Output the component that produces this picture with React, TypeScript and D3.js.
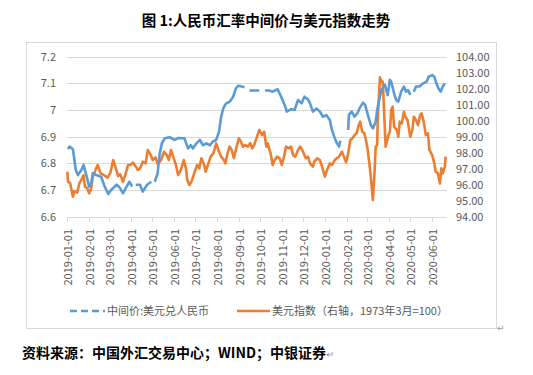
import React from "react";
import * as d3 from "d3";

const cnyDates: string[] = [
  "2019-01-02","2019-01-04","2019-01-09","2019-01-13","2019-01-16","2019-01-21","2019-01-24","2019-01-28",
  "2019-02-01","2019-02-04","2019-02-06","2019-02-11","2019-02-18","2019-02-23","2019-02-28","2019-03-04",
  "2019-03-12","2019-03-16","2019-03-21","2019-03-26","2019-03-30","2019-04-03","2019-04-05","2019-04-08",
  "2019-04-14","2019-04-18","2019-04-24","2019-04-30","2019-05-02","2019-05-05","2019-05-09","2019-05-12",
  "2019-05-15","2019-05-19","2019-05-26","2019-06-02","2019-06-07","2019-06-16","2019-06-21","2019-06-25",
  "2019-06-28","2019-07-03","2019-07-08","2019-07-12","2019-07-17","2019-07-22","2019-07-26","2019-07-31",
  "2019-08-04","2019-08-07","2019-08-10","2019-08-14","2019-08-19","2019-08-24","2019-08-28","2019-08-31",
  "2019-09-05","2019-09-09","2019-09-12","2019-09-16","2019-09-26","2019-09-30","2019-10-04","2019-10-08",
  "2019-10-14","2019-10-19","2019-10-26","2019-10-31","2019-11-05","2019-11-08","2019-11-14","2019-11-19",
  "2019-11-24","2019-11-29","2019-12-03","2019-12-08","2019-12-11","2019-12-15","2019-12-20","2019-12-25",
  "2019-12-29","2020-01-03","2020-01-08","2020-01-11","2020-01-15","2020-01-17","2020-01-21","2020-01-23",
  "2020-01-28","2020-02-03","2020-02-04","2020-02-08","2020-02-12","2020-02-16","2020-02-19","2020-02-24",
  "2020-02-27","2020-03-02","2020-03-06","2020-03-09","2020-03-13","2020-03-15","2020-03-21","2020-03-26",
  "2020-03-30","2020-04-02","2020-04-04","2020-04-08","2020-04-11","2020-04-14","2020-04-18","2020-04-22",
  "2020-04-25","2020-04-28","2020-05-01","2020-05-03","2020-05-06","2020-05-09","2020-05-14","2020-05-19",
  "2020-05-24","2020-05-27","2020-06-01","2020-06-04","2020-06-07","2020-06-10","2020-06-13","2020-06-16",
  "2020-06-19"
];
const cnyValues: (number | null)[] = [
  6.853,6.863,6.853,6.775,6.756,6.775,6.794,6.756,
  6.713,6.725,6.763,6.756,6.75,6.713,6.685,6.70,
  6.72,6.71,6.688,6.713,6.731,6.713,null,6.72,
  6.72,6.694,6.72,6.731,null,6.731,6.763,6.838,
  6.875,6.894,6.898,6.888,6.895,6.894,6.856,6.868,
  6.856,6.875,6.888,6.868,6.875,6.868,6.881,6.888,
  6.919,6.975,7.006,7.025,7.031,7.05,7.081,7.091,
  7.088,7.086,null,7.073,7.073,7.073,null,7.073,
  7.073,7.069,7.078,7.05,7.019,6.994,7.003,7.0,
  7.0375,7.025,7.05,7.04,7.025,6.994,7.006,6.994,
  6.975,6.981,6.963,6.925,6.894,6.881,6.863,6.885,
  null,6.925,6.981,6.994,6.975,6.988,7.006,7.028,
  7.019,6.981,6.944,6.931,6.956,7.0,7.075,7.094,
  7.056,7.113,7.106,7.063,7.0375,7.031,7.069,7.088,
  7.069,7.075,7.056,null,7.069,7.088,7.088,7.1,
  7.106,7.125,7.131,7.125,7.1,7.081,7.069,7.088,
  7.1
];

const dxyDates: string[] = [
  "2019-01-01","2019-01-02","2019-01-05","2019-01-07","2019-01-09","2019-01-11","2019-01-15","2019-01-18",
  "2019-01-21","2019-01-24","2019-01-26","2019-01-29","2019-02-01","2019-02-04","2019-02-06","2019-02-10",
  "2019-02-13","2019-02-17","2019-02-20","2019-02-24","2019-02-27","2019-03-03","2019-03-07","2019-03-10",
  "2019-03-14","2019-03-17","2019-03-21","2019-03-25","2019-03-28","2019-03-31","2019-04-04","2019-04-08",
  "2019-04-11","2019-04-14","2019-04-18","2019-04-22","2019-04-25","2019-04-28","2019-05-02","2019-05-06",
  "2019-05-09","2019-05-14","2019-05-18","2019-05-22","2019-05-25","2019-05-28","2019-05-31","2019-06-04",
  "2019-06-07","2019-06-11","2019-06-15","2019-06-18","2019-06-20","2019-06-23","2019-06-26","2019-06-30",
  "2019-07-04","2019-07-07","2019-07-10","2019-07-14","2019-07-16","2019-07-20","2019-07-23","2019-07-27",
  "2019-07-31","2019-08-03","2019-08-07","2019-08-11","2019-08-13","2019-08-16","2019-08-19","2019-08-22",
  "2019-08-25","2019-08-29","2019-09-01","2019-09-04","2019-09-07","2019-09-10","2019-09-14","2019-09-17",
  "2019-09-20","2019-09-23","2019-09-26","2019-09-30","2019-10-04","2019-10-07","2019-10-10","2019-10-12",
  "2019-10-16","2019-10-19","2019-10-22","2019-10-25","2019-10-29","2019-11-01","2019-11-04","2019-11-07",
  "2019-11-11","2019-11-14","2019-11-17","2019-11-20","2019-11-24","2019-11-27","2019-12-01","2019-12-05",
  "2019-12-08","2019-12-11","2019-12-15","2019-12-17","2019-12-21","2019-12-25","2019-12-28","2020-01-01",
  "2020-01-04","2020-01-08","2020-01-11","2020-01-15","2020-01-18","2020-01-21","2020-01-25","2020-01-28",
  "2020-01-31","2020-02-03","2020-02-06","2020-02-09","2020-02-12","2020-02-15","2020-02-18","2020-02-20",
  "2020-02-23","2020-02-26","2020-03-01","2020-03-04","2020-03-06","2020-03-09","2020-03-11","2020-03-13",
  "2020-03-15","2020-03-16","2020-03-19","2020-03-21","2020-03-23","2020-03-24","2020-03-27","2020-03-31",
  "2020-04-02","2020-04-04","2020-04-06","2020-04-08","2020-04-12","2020-04-14","2020-04-16","2020-04-19",
  "2020-04-22","2020-04-24","2020-04-27","2020-05-01","2020-05-04","2020-05-06","2020-05-09","2020-05-12",
  "2020-05-15","2020-05-17","2020-05-20","2020-05-23","2020-05-26","2020-05-28","2020-06-01","2020-06-04",
  "2020-06-06","2020-06-09","2020-06-12","2020-06-14","2020-06-16","2020-06-19","2020-06-20"
];
const dxyValues: number[] = [
  96.81,96.19,96.1,95.67,95.25,95.6,95.5,96.08,
  96.29,96.6,95.88,95.79,95.46,95.79,96.5,96.92,
  97.23,96.73,96.65,96.54,96.44,96.73,97.54,97.13,
  96.54,96.65,96.19,96.73,97.23,97.23,97.38,97.13,
  96.92,97.02,97.44,97.33,98.17,97.96,97.54,97.7,
  97.3,97.54,98.06,97.85,97.54,98.17,97.75,97.23,
  96.6,96.92,97.54,97.02,96.29,95.98,96.19,96.73,
  97.23,97.02,97.65,97.23,96.81,97.33,97.75,97.96,
  98.58,98.17,97.75,97.54,97.33,97.96,98.38,98.17,
  97.65,98.38,98.9,98.69,98.38,98.48,98.38,98.6,
  98.27,98.5,98.9,99.42,99.1,99.31,98.38,98.58,
  97.96,97.23,97.54,97.75,97.65,97.23,97.75,98.38,
  98.27,98.38,97.85,97.75,98.17,98.38,98.06,97.65,
  97.75,97.33,97.13,97.44,97.65,97.54,97.13,96.5,
  96.92,97.33,97.23,97.54,97.65,97.75,98.06,97.75,
  97.4,97.96,98.79,98.9,99.1,99.21,99.73,99.94,
  99.31,99.21,98.38,97.33,96.5,95.04,96.5,98.38,
  98.48,100.25,102.71,102.44,102.44,101.5,98.38,99.1,
  99.31,100.67,100.88,99.63,99.42,99.0,99.94,99.83,
  100.56,100.25,100.04,99.0,99.42,100.25,100.04,99.73,
  100.35,100.46,99.94,99.1,99.21,98.17,97.85,97.33,
  96.81,96.71,96.08,97.02,96.71,97.13,97.75
];

const leftTicks: number[] = [6.6, 6.7, 6.8, 6.9, 7, 7.1, 7.2];
const rightTicks: number[] = [94, 95, 96, 97, 98, 99, 100, 101, 102, 103, 104];
const monthTicks: string[] = [
  "2019-01-01","2019-02-01","2019-03-01","2019-04-01","2019-05-01","2019-06-01","2019-07-01","2019-08-01",
  "2019-09-01","2019-10-01","2019-11-01","2019-12-01","2020-01-01","2020-02-01","2020-03-01","2020-04-01",
  "2020-05-01","2020-06-01"
];

const titleText = "图 1:人民币汇率中间价与美元指数走势";
const legendBlue = "中间价:美元兑人民币";
const legendOrange = "美元指数（右轴，1973年3月=100）";
const sourceText = "资料来源：中国外汇交易中心；WIND；中银证券";

const BLUE = "#5B9BD5";
const ORANGE = "#ED7D31";
const GRID = "#D9D9D9";
const TXT = "#595959";

export default function App() {
  const parse = d3.timeParse("%Y-%m-%d");
  const x = d3
    .scaleTime()
    .domain([parse("2019-01-01") as Date, parse("2020-06-22") as Date])
    .range([67.3, 447]);
  const yL = d3.scaleLinear().domain([6.6, 7.2]).range([216.7, 56.7]);
  const yR = d3.scaleLinear().domain([94, 104]).range([216.7, 56.7]);

  const cny = cnyDates.map((d, i) => ({ d: parse(d) as Date, v: cnyValues[i] }));
  const dxy = dxyDates.map((d, i) => ({ d: parse(d) as Date, v: dxyValues[i] }));

  const lineL = d3
    .line<{ d: Date; v: number | null }>()
    .defined((p) => p.v !== null)
    .x((p) => x(p.d))
    .y((p) => yL(p.v as number));
  const lineR = d3
    .line<{ d: Date; v: number }>()
    .x((p) => x(p.d))
    .y((p) => yR(p.v));

  const font = "'Microsoft YaHei', 'Noto Sans CJK SC', 'DejaVu Sans', sans-serif";
  const serifFont = "'Noto Sans CJK SC', serif";

  return (
    <svg
      width={533}
      height={375}
      style={{ position: "absolute", left: 0, top: 0, background: "#fff" }}
      fontFamily={font}
    >
      <rect x={0} y={0} width={533} height={375} fill="#fff" />
      <text x={266} y={26} textAnchor="middle" fontFamily={serifFont} fontWeight="bold" fontSize={14.5} fill="#000">
        {titleText}
      </text>
      <rect x={26.5} y={42.5} width={470} height={286} fill="none" stroke={GRID} strokeWidth={1} />

      {leftTicks.map((t) => (
        <g key={"g" + t}>
          <line x1={67.3} x2={447} y1={Math.round(yL(t)) + 0.5} y2={Math.round(yL(t)) + 0.5} stroke={GRID} strokeWidth={1} />
          <text x={56} y={yL(t) + 4} textAnchor="end" fontSize={11} fill={TXT}>
            {String(t)}
          </text>
        </g>
      ))}
      {rightTicks.map((t) => (
        <text key={"r" + t} x={456} y={yR(t) + 4} textAnchor="start" fontSize={11} fill={TXT}>
          {t.toFixed(2)}
        </text>
      ))}
      {monthTicks.map((m) => {
        const xx = Math.round(x(parse(m) as Date)) + 0.5;
        return (
          <g key={m}>
            <line x1={xx} x2={xx} y1={217} y2={222} stroke={GRID} strokeWidth={1} />
            <text
              transform={`translate(${xx + 4},${229}) rotate(-90)`}
              textAnchor="end"
              fontSize={11}
              fill={TXT}
            >
              {m}
            </text>
          </g>
        );
      })}

      <path d={lineR(dxy) || ""} fill="none" stroke={ORANGE} strokeWidth={2.6} strokeLinejoin="round" />
      <path d={lineL(cny) || ""} fill="none" stroke={BLUE} strokeWidth={2.6} strokeLinejoin="round" />

      <line x1={70} x2={105} y1={311} y2={311} stroke={BLUE} strokeWidth={2.6} strokeDasharray="7,4" />
      <text x={107} y={315} fontSize={11} fill={TXT}>{legendBlue}</text>
      <line x1={237} x2={270} y1={311} y2={311} stroke={ORANGE} strokeWidth={2.6} />
      <text x={272} y={315} fontSize={11} fill={TXT}>{legendOrange}</text>
      <text x={497} y={331} fontSize={9} fill="#999">↵</text>

      <text x={22} y={358} fontFamily={serifFont} fontWeight="bold" fontSize={14} fill="#000">
        {sourceText}
        <tspan fontSize={10} fontWeight="normal" fill="#999">↵</tspan>
      </text>
    </svg>
  );
}
